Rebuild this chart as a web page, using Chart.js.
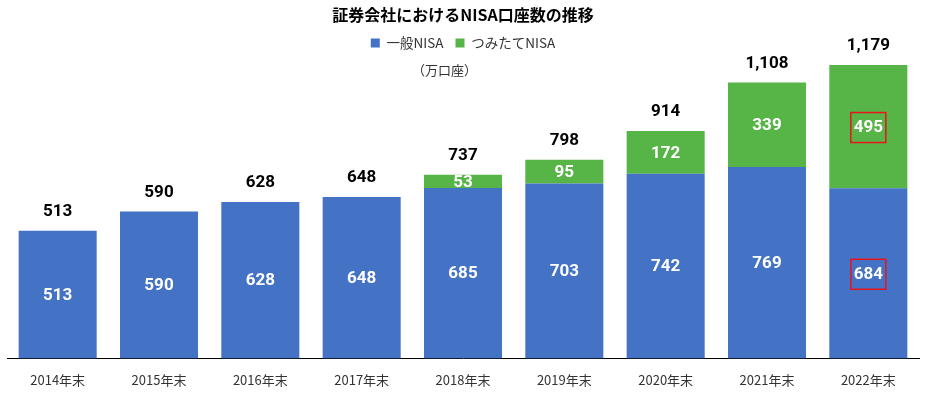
<!DOCTYPE html>
<html><head><meta charset="utf-8">
<script src="https://cdn.jsdelivr.net/npm/chart.js@4"></script>
<style>html,body{margin:0;padding:0;background:#fff}#wrap{width:925px;height:397px}</style>
</head><body><div id="wrap"><canvas id="c"></canvas></div>
<script>
const categories = ['2014年末','2015年末','2016年末','2017年末','2018年末','2019年末','2020年末','2021年末','2022年末'];
const ippanNisa = [513,590,628,648,685,703,742,769,684];
const tsumitateNisa = [null,null,null,null,53,95,172,339,495];
const totalLabels = ['513','590','628','648','737','798','914','1,108','1,179'];
const highlighted = [8];

const JP = '"Noto Sans CJK JP","Noto Sans",sans-serif';
const NUM = 'Roboto,"Noto Sans",sans-serif';

const labelPlugin = {
  id: 'labels',
  afterDatasetsDraw(chart) {
    const ctx = chart.ctx;
    ctx.save();
    ctx.textAlign = 'center';
    ctx.textBaseline = 'middle';
    ctx.font = 'bold 17px ' + NUM;
    chart.data.datasets.forEach((ds, di) => {
      const meta = chart.getDatasetMeta(di);
      meta.data.forEach((el, i) => {
        const v = ds.data[i];
        if (v == null) return;
        const cy = (el.y + el.base) / 2 + 1;
        ctx.fillStyle = '#ffffff';
        ctx.fillText(String(v), el.x, cy);
        if (highlighted.includes(i)) {
          ctx.strokeStyle = '#e8141c';
          ctx.lineWidth = 1.5;
          ctx.strokeRect(el.x - 17.5, cy - 15, 35, 30);
        }
      });
    });
    // totals
    ctx.fillStyle = '#000000';
    const m0 = chart.getDatasetMeta(0), m1 = chart.getDatasetMeta(1);
    categories.forEach((c, i) => {
      const e0 = m0.data[i], e1 = m1.data[i];
      let top = e0.y;
      if (tsumitateNisa[i] != null) top = Math.min(top, e1.y);
      ctx.fillText(totalLabels[i], e0.x, top - 19);
    });
    // unit note
    ctx.fillStyle = '#333333';
    ctx.font = '13px ' + JP;
    ctx.fillText('（万口座）', chart.width / 2 - 18, 70);
    ctx.restore();
  }
};

new Chart(document.getElementById('c'), {
  type: 'bar',
  data: {
    labels: categories,
    datasets: [
      { label: '一般NISA', data: ippanNisa, backgroundColor: '#4472C4', borderWidth: 0, barPercentage: 0.77, categoryPercentage: 1 },
      { label: 'つみたてNISA', data: tsumitateNisa, backgroundColor: '#57B447', borderWidth: 0, barPercentage: 0.77, categoryPercentage: 1 }
    ]
  },
  options: {
    responsive: true,
    maintainAspectRatio: false,
    animation: false,
    layout: { padding: { left: 7, right: 6, top: 0, bottom: -5 } },
    plugins: {
      title: { display: true, text: '証券会社におけるNISA口座数の推移', color: '#000', font: { family: JP, size: 16, weight: 'bold' }, padding: { top: 5, bottom: 0 } },
      legend: { display: true, labels: { boxWidth: 9, boxHeight: 9, color: '#333', font: { family: JP, size: 13.5 }, padding: 12 } },
      tooltip: { enabled: false }
    },
    scales: {
      x: { stacked: true, grid: { display: false, drawTicks: false }, border: { display: true, color: '#000', width: 1 },
           ticks: { color: '#333', font: { family: JP, size: 13 }, padding: 14 } },
      y: { stacked: true, display: false, min: 0, max: 1200 }
    }
  },
  plugins: [labelPlugin]
});
</script></body></html>
